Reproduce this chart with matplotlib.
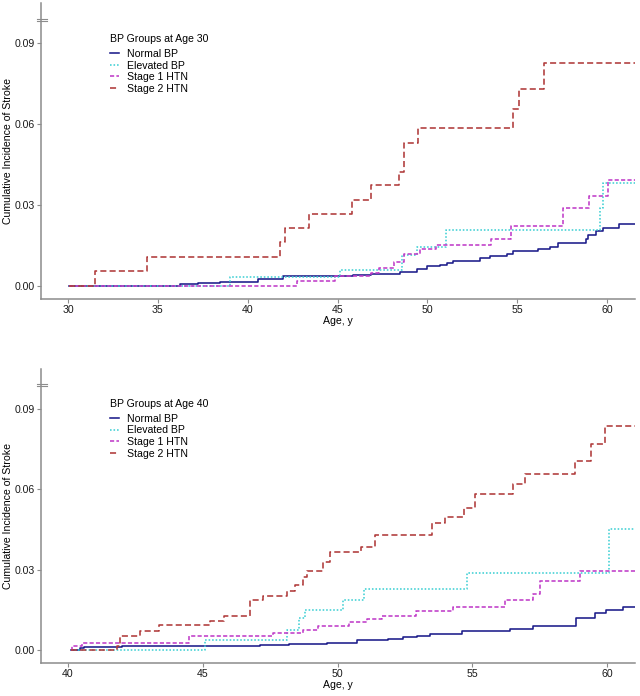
import matplotlib
matplotlib.use('Agg')
import matplotlib.pyplot as plt
import matplotlib.transforms as mtransforms

plt.rcParams['font.family'] = ['Liberation Sans', 'DejaVu Sans']

# ---------------- data ----------------
groups = ['Normal BP', 'Elevated BP', 'Stage 1 HTN', 'Stage 2 HTN']

# BP groups at age 30
normal30_t = [30.07, 36.26, 37.26, 38.47, 40.14, 40.6, 41.99, 45.88, 46.85, 48.48, 49.41, 49.97,
              50.71, 51.08, 51.45, 52.0, 52.93, 53.49, 54.41, 54.78, 56.17, 56.82, 57.28, 58.8,
              58.95, 59.38, 59.79, 60.66, 62]
normal30_v = [0, 0.0005, 0.0009, 0.0013, 0.0015, 0.0024, 0.0034, 0.0040, 0.0042, 0.0052, 0.0060,
              0.0071, 0.0077, 0.0083, 0.0090, 0.0093, 0.0102, 0.0111, 0.0118, 0.0127, 0.0135,
              0.0143, 0.0158, 0.0173, 0.0189, 0.0201, 0.0214, 0.0229, 0.0229]
elev30_t = [30.07, 39.04, 45.15, 48.57, 49.41, 51.04, 59.6, 59.77, 62]
elev30_v = [0, 0.003, 0.0058, 0.0114, 0.0143, 0.0205, 0.0288, 0.0381, 0.0381]
st1_30_t = [30.07, 42.73, 44.87, 46.85, 47.28, 48.15, 48.67, 49.6, 50.47, 53.53, 54.66, 57.57,
            59.01, 60.03, 62]
st1_30_v = [0, 0.00175, 0.0034, 0.0048, 0.0067, 0.0086, 0.0117, 0.0135, 0.0149, 0.0173, 0.022,
            0.0289, 0.0334, 0.0392, 0.0392]
st2_30_t = [30.07, 31.52, 34.41, 41.8, 42.1, 43.42, 45.79, 46.85, 48.43, 48.67, 49.47, 54.78,
            55.11, 56.49, 62]
st2_30_v = [0, 0.0055, 0.0107, 0.0162, 0.0212, 0.0267, 0.0317, 0.0372, 0.0423, 0.053, 0.0586,
            0.0657, 0.0732, 0.0826, 0.0826]

# BP groups at age 40
normal40_t = [40.1, 40.46, 40.6, 42.0, 47.13, 48.18, 49.6, 50.71, 51.88, 52.44, 52.93, 53.43,
              54.6, 56.39, 57.26, 58.86, 59.54, 59.97, 60.59, 62]
normal40_v = [0, 0.0007, 0.0011, 0.0016, 0.002, 0.0024, 0.0028, 0.0036, 0.0042, 0.0047, 0.0053,
              0.0061, 0.0073, 0.008, 0.009, 0.0118, 0.0138, 0.0148, 0.0162, 0.0162]
elev40_t = [40.1, 45.09, 48.12, 48.55, 48.8, 50.19, 50.99, 54.79, 60.08, 62]
elev40_v = [0, 0.0038, 0.0076, 0.0119, 0.015, 0.0187, 0.0228, 0.0287, 0.0451, 0.0451]
st1_40_t = [40.1, 40.15, 40.52, 44.47, 47.62, 48.73, 49.29, 50.44, 51.08, 51.64, 52.91, 54.29,
            56.21, 57.26, 57.51, 58.99, 62]
st1_40_v = [0, 0.0015, 0.0026, 0.0051, 0.0063, 0.0076, 0.009, 0.0104, 0.0115, 0.0129, 0.0144,
            0.016, 0.0185, 0.021, 0.0259, 0.0294, 0.0294]
st2_40_t = [40.1, 41.82, 41.94, 42.68, 43.36, 45.27, 45.77, 46.76, 47.25, 48.12, 48.43, 48.73,
            48.86, 49.47, 49.72, 50.86, 51.39, 53.49, 53.99, 54.67, 55.1, 56.5, 56.95, 58.81,
            59.39, 59.92, 62]
st2_40_v = [0, 0.0017, 0.0054, 0.0072, 0.0093, 0.011, 0.0128, 0.0187, 0.0203, 0.0222, 0.0243,
            0.0274, 0.0296, 0.033, 0.0365, 0.0386, 0.0429, 0.0473, 0.0498, 0.0529, 0.0583,
            0.0619, 0.0656, 0.0707, 0.0769, 0.0837, 0.0837]

yticks = [0.0, 0.03, 0.06, 0.09]
ytick_labels = ['0.00', '0.03', '0.06', '0.09']
xticks30 = [30, 35, 40, 45, 50, 55, 60]
xticks40 = [40, 45, 50, 55, 60]
BREAK_Y = 0.0988

# ---------------- style ----------------
colors = ['#1c1c8a', '#3fd0d4', '#c03cc8', '#b03a3a']
dashes = [None, (1.0, 1.2), (2.6, 1.4), (3.8, 2.0)]
LW = 1.15
FS = 7.6
AXC = '#8c8c8c'

fig = plt.figure(figsize=(6.4, 6.96), dpi=100)
ax1 = fig.add_axes([0.0641, 0.5704, 0.9281, 0.4253])
ax2 = fig.add_axes([0.0641, 0.0467, 0.9281, 0.4237])


def draw(ax, series, xlim, xticks, title, anchor_y):
    for (t, v), lab, c, d in zip(series, groups, colors, dashes):
        ln, = ax.step(t, v, where='post', color=c, lw=LW, label=lab)
        if d is not None:
            ln.set_dashes(d)
    ax.set_xlim(*xlim)
    ax.set_ylim(-0.005, 0.105)
    ax.set_xticks(xticks)
    ax.set_yticks(yticks)
    ax.set_yticklabels(ytick_labels)
    for s in ['top', 'right']:
        ax.spines[s].set_visible(False)
    for s in ['left', 'bottom']:
        ax.spines[s].set_color(AXC)
        ax.spines[s].set_linewidth(1.1)
    ax.tick_params(length=3, width=0.8, color=AXC, labelsize=FS, labelcolor='#1a1a1a')
    ax.tick_params(axis='x', pad=1)
    ax.tick_params(axis='y', pad=1.5)
    ax.set_xlabel('Age, y', fontsize=FS, labelpad=1)
    ax.set_ylabel('Cumulative Incidence of Stroke', fontsize=FS, labelpad=1)
    # axis break marker
    tr = mtransforms.blended_transform_factory(ax.transAxes, ax.transData)
    for dy in (0.0004, -0.0004):
        ax.plot([-0.0067, 0.0101], [BREAK_Y + dy, BREAK_Y + dy], color=AXC, lw=0.8,
                transform=tr, clip_on=False)
    leg = ax.legend(title=title, loc='upper left', bbox_to_anchor=(0.116, anchor_y),
                    frameon=False, fontsize=FS, title_fontsize=FS, handlelength=0.9,
                    handletextpad=0.75, labelspacing=0.15, borderpad=0, borderaxespad=0,
                    alignment='left')
    try:
        leg._legend_box.sep = 3.5
    except Exception:
        pass


draw(ax1, [(normal30_t, normal30_v), (elev30_t, elev30_v), (st1_30_t, st1_30_v),
           (st2_30_t, st2_30_v)], (28.5, 61.55), xticks30, 'BP Groups at Age 30', 0.895)
draw(ax2, [(normal40_t, normal40_v), (elev40_t, elev40_v), (st1_40_t, st1_40_v),
           (st2_40_t, st2_40_v)], (39.0, 61.03), xticks40, 'BP Groups at Age 40', 0.897)

fig.savefig('out.png', dpi=100)
